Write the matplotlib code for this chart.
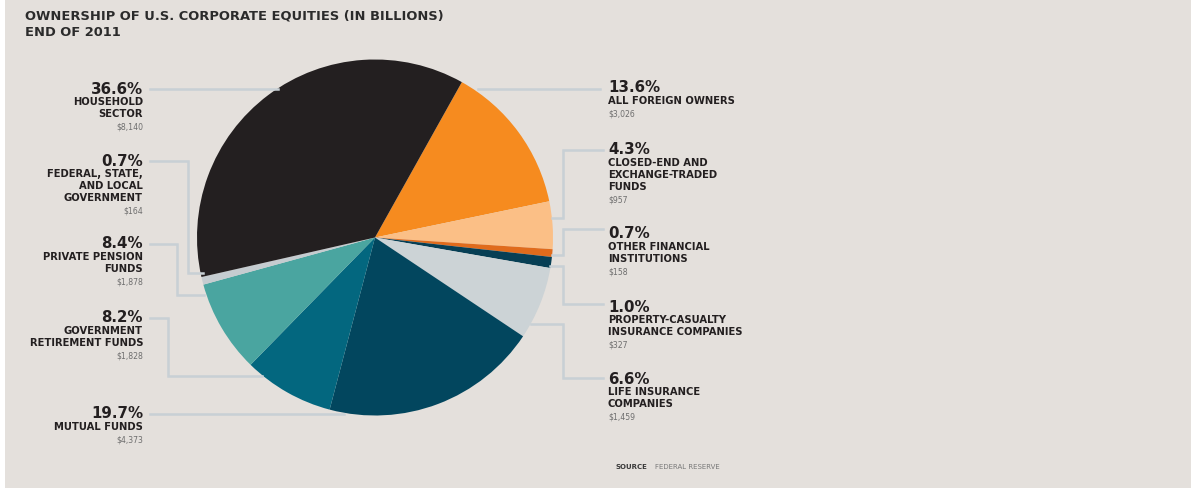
import matplotlib
matplotlib.use("Agg")
import matplotlib.pyplot as plt
from matplotlib.patches import Rectangle

# ---------------- data ----------------
categories = ["All foreign owners", "Closed-end and exchange-traded funds",
              "Other financial institutions", "Property-casualty insurance companies",
              "Life insurance companies", "Mutual funds", "Government retirement funds",
              "Private pension funds", "Federal, state, and local government",
              "Household sector"]
shares = [13.6, 4.3, 0.7, 1.0, 6.6, 19.7, 8.2, 8.4, 0.7, 36.6]
pct_labels = ["13.6%", "4.3%", "0.7%", "1.0%", "6.6%", "19.7%", "8.2%", "8.4%", "0.7%", "36.6%"]
name_labels = ["ALL FOREIGN OWNERS", "CLOSED-END AND\nEXCHANGE-TRADED\nFUNDS",
               "OTHER FINANCIAL\nINSTITUTIONS", "PROPERTY-CASUALTY\nINSURANCE COMPANIES",
               "LIFE INSURANCE\nCOMPANIES", "MUTUAL FUNDS", "GOVERNMENT\nRETIREMENT FUNDS",
               "PRIVATE PENSION\nFUNDS", "FEDERAL, STATE,\nAND LOCAL\nGOVERNMENT",
               "HOUSEHOLD\nSECTOR"]
dollar_labels = ["$3,026", "$957", "$158", "$327", "$1,459", "$4,373", "$1,828",
                 "$1,878", "$164", "$8,140"]
colors = ["#f68b1f", "#fbbf86", "#e06b1c", "#073f55", "#ccd3d6", "#02465e",
          "#03677f", "#4aa5a0", "#c5ccd0", "#231f20"]

W, H = 1191, 493
BG = "#e4e0dc"
LINE = "#c8d0d5"

fig = plt.figure(figsize=(W / 100, H / 100), dpi=100)
fig.patch.set_facecolor("white")
ax = fig.add_axes([0, 0, 1, 1])

def Y(y):
    return H - y

ax.add_patch(Rectangle((5, Y(488)), W - 5, 488, facecolor=BG, edgecolor="none", zorder=0))

cx, cy, R = 375, 237.5, 178
ax.pie(shares, colors=colors, startangle=60.8, counterclock=False,
       center=(cx, Y(cy)), radius=R, frame=True,
       wedgeprops=dict(edgecolor="none", linewidth=0))

ax.set_xlim(0, W)
ax.set_ylim(0, H)
ax.set_aspect("equal")
ax.axis("off")

# leader lines (pixel layout)
leaders = [
    [(478, 89), (600, 89)],                                  # foreign
    [(603, 150), (563, 150), (563, 218), (552, 218)],        # closed-end
    [(603, 229), (563, 229), (563, 255), (552, 255)],        # other fin
    [(550, 266), (563, 266), (563, 304), (603, 304)],        # property
    [(531, 324), (563, 324), (563, 378), (603, 378)],        # life
    [(150, 414), (344, 414)],                                # mutual
    [(150, 318), (168, 318), (168, 376), (262, 376)],        # gov retirement
    [(150, 244), (177, 244), (177, 295), (204, 295)],        # private pension
    [(150, 161), (188, 161), (188, 273), (203, 273)],        # federal
    [(150, 89), (278, 89)],                                  # household
]
for pts in leaders:
    xs = [p[0] for p in pts]
    ys = [Y(p[1]) for p in pts]
    ax.plot(xs, ys, color=LINE, lw=1.8, solid_joinstyle="miter", zorder=1)

# label layout: (x, y of percentage, alignment)
label_pos = [
    (608, 88, "left"), (608, 150, "left"), (608, 234, "left"), (608, 307, "left"),
    (608, 379, "left"), (143, 414, "right"), (143, 318, "right"), (143, 244, "right"),
    (143, 161, "right"), (143, 89, "right"),
]
FONT = "DejaVu Sans"
LS = 12.2
for i, (x, y, ha) in enumerate(label_pos):
    ax.text(x, Y(y), pct_labels[i], ha=ha, va="center", fontsize=10.8,
            fontweight="bold", color="#231f20", family=FONT)
    lines = name_labels[i].split("\n")
    for j, ln in enumerate(lines):
        ax.text(x, Y(y + 12.8 + LS * j), ln, ha=ha, va="center", fontsize=7.2,
                fontweight="bold", color="#231f20", family=FONT)
    ax.text(x, Y(y + 12.8 + LS * len(lines) + 0.5), dollar_labels[i], ha=ha,
            va="center", fontsize=5.6, color="#6e6e6e", family=FONT)

# title
ax.text(25, Y(16), "OWNERSHIP OF U.S. CORPORATE EQUITIES (IN BILLIONS)", ha="left",
        va="center", fontsize=9.4, fontweight="bold", color="#2b2b2b", family=FONT)
ax.text(25, Y(33), "END OF 2011", ha="left", va="center", fontsize=9.4,
        fontweight="bold", color="#2b2b2b", family=FONT)

# source
ax.text(615, Y(467), "SOURCE", ha="left", va="center", fontsize=5.0,
        fontweight="bold", color="#3a3a3a", family=FONT)
ax.text(655, Y(467), "FEDERAL RESERVE", ha="left", va="center", fontsize=5.0,
        color="#7a7a7a", family=FONT)

fig.savefig("out.png", dpi=100, facecolor=fig.get_facecolor())
